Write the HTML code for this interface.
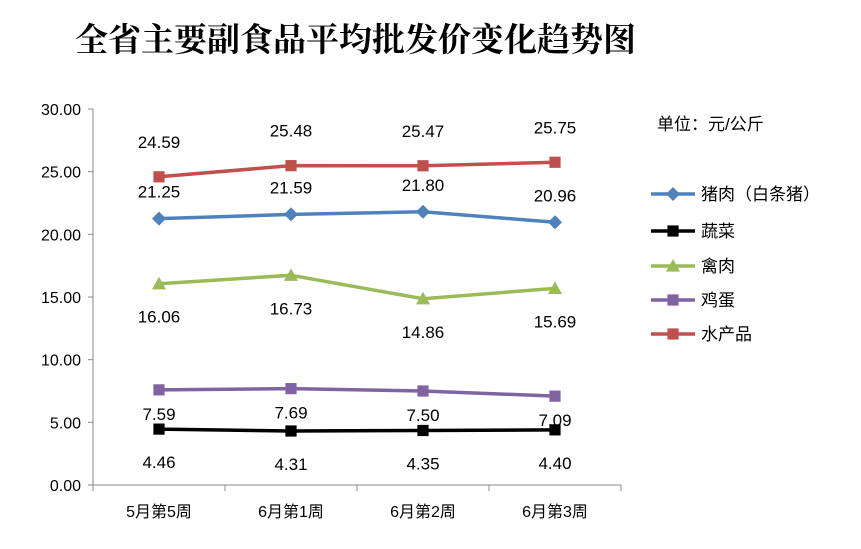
<!DOCTYPE html>
<html><head><meta charset="utf-8"><style>
body{margin:0;background:#fff;}
svg text{font-family:"Liberation Sans","Noto Sans CJK SC",sans-serif;}
</style></head><body>
<svg width="861" height="544" xmlns="http://www.w3.org/2000/svg">
<text x="75" y="51" font-size="33" font-weight="bold" style="font-family:'Liberation Serif','Noto Serif CJK SC',serif">全省主要副食品平均批发价变化趋势图</text>
<text x="657" y="130" font-size="17">单位：元/公斤</text>
<g id="axes"></g>
<g id="series"></g>
<g id="legend"></g>
</svg>
<script>
const categories=["5月第5周","6月第1周","6月第2周","6月第3周"];
const yTicks=["0.00","5.00","10.00","15.00","20.00","25.00","30.00"];
const seriesNames=["猪肉（白条猪）","蔬菜","禽肉","鸡蛋","水产品"];
const pork=[21.25,21.59,21.80,20.96];
const veg=[4.46,4.31,4.35,4.40];
const poultry=[16.06,16.73,14.86,15.69];
const eggs=[7.59,7.69,7.50,7.09];
const aquatic=[24.59,25.48,25.47,25.75];
const NS="http://www.w3.org/2000/svg";
const x0=93,x1=621,yB=485,yT=109,yMax=30;
const bw=(x1-x0)/categories.length;
const xs=i=>x0+bw*(i+0.5);
const ys=v=>yB-(v/yMax)*(yB-yT);
function mk(tag,attrs,parent,txt){const e=document.createElementNS(NS,tag);for(const k in attrs)e.setAttribute(k,attrs[k]);if(txt!==undefined)e.textContent=txt;parent.appendChild(e);return e;}
const ax=document.getElementById('axes');
let l=mk('line',{x1:x0,y1:yT,x2:x0,y2:yB,stroke:'#888','stroke-width':1},ax);


l=mk('line',{x1:x0,y1:yB,x2:x1,y2:yB,stroke:'#888','stroke-width':1},ax);


yTicks.forEach((t,i)=>{const y=ys(parseFloat(t));
 const tk=mk('line',{x1:x0-5,y1:y,x2:x0,y2:y,stroke:'#888'},ax);
 
 
 const tx=mk('text',{x:x0-12,y:y+6,'text-anchor':'end','font-size':16},ax,t);
 
 
});
for(let i=0;i<=categories.length;i++){const tk=mk('line',{x1:x0+bw*i,y1:yB,x2:x0+bw*i,y2:yB+6,stroke:'#888'},ax);
 
 }
categories.forEach((c,i)=>{const tx=mk('text',{x:xs(i),y:517,'text-anchor':'middle','font-size':16},ax,c);
 
 });
const sers=[{d:pork,c:'#4F81BD',m:'diamond',off:-21},{d:veg,c:'#000000',m:'square',off:39},{d:poultry,c:'#9BBB59',m:'triangle',off:39},{d:eggs,c:'#8064A2',m:'square',off:30},{d:aquatic,c:'#C0504D',m:'square',off:-29}];
function marker(g,m,x,y,c,s){let e;
 if(m==='diamond')e=mk('polygon',{points:`${x},${y-s} ${x+s},${y} ${x},${y+s} ${x-s},${y}`,fill:c},g);
 else if(m==='triangle')e=mk('polygon',{points:`${x},${y-s} ${x+s},${y+s*0.8} ${x-s},${y+s*0.8}`,fill:c},g);
 else e=mk('rect',{x:x-s*0.8,y:y-s*0.8,width:s*1.6,height:s*1.6,fill:c},g);
 
 }
const sg=document.getElementById('series');
sers.forEach((s,si)=>{const g=mk('g',{},sg);
 
 
 const p=mk('polyline',{points:s.d.map((v,i)=>xs(i)+','+ys(v)).join(' '),fill:'none',stroke:s.c,'stroke-width':3.5},g);
 
 
 s.d.forEach((v,i)=>{marker(g,s.m,xs(i),ys(v),s.c,7);
  const t=mk('text',{x:xs(i),y:ys(v)+s.off,'text-anchor':'middle','font-size':17},g,v.toFixed(2));
  
  });
});
const lg=document.getElementById('legend');
const ly=[194,231,266,300,334];
sers.forEach((s,i)=>{const g=mk('g',{},lg);
 
 
 mk('line',{x1:651,y1:ly[i],x2:695,y2:ly[i],stroke:s.c,'stroke-width':3.5},g);
 marker(g,s.m,673,ly[i],s.c,7);
 mk('text',{x:701,y:ly[i]+6,'font-size':17},g,seriesNames[i]);
});
</script>
</body></html>
